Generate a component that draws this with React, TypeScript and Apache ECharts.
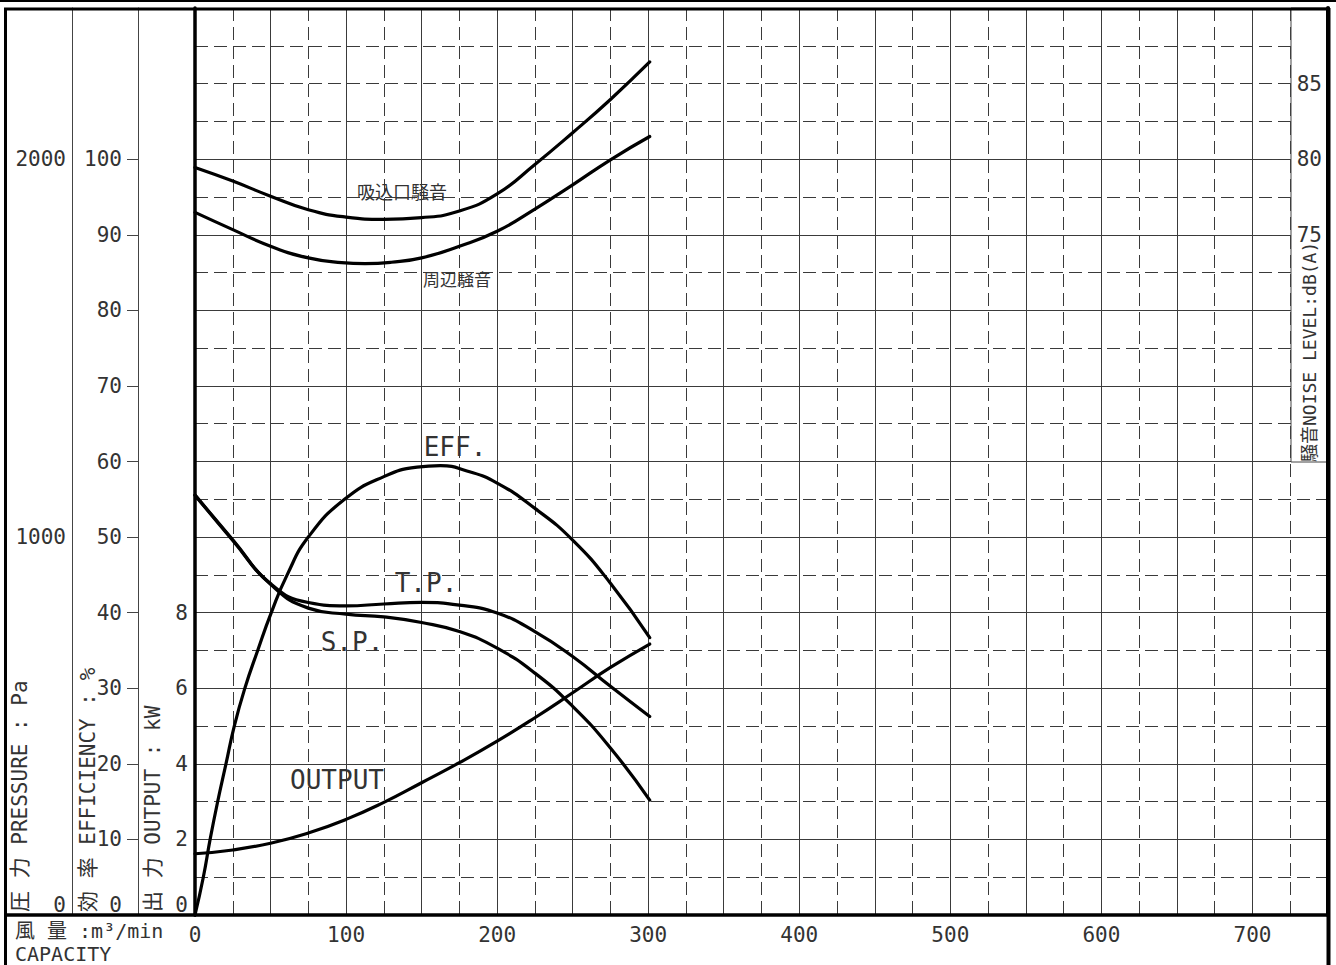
import React, { useEffect, useRef } from "react";
import * as echarts from "echarts";

// ---- data ----
const xTicks = [0, 100, 200, 300, 400, 500, 600, 700];
const effTicks = [0, 10, 20, 30, 40, 50, 60, 70, 80, 90, 100];
const effTickMarks = [10, 20, 30, 40, 50, 60, 70, 80, 90, 100];
const pressureTicks = [0, 1000, 2000];
const outputTicks = [0, 2, 4, 6, 8];
const noiseTicks = [75, 80, 85];

// efficiency % vs capacity m3/min
const effFlow = [0, 5.5, 10, 15, 20.5, 26, 33, 41.5, 50.5, 61, 75, 99, 125, 147, 162.5, 180, 200, 225, 250, 275, 301];
const effValues = [0, 5, 10, 15, 20, 25, 30, 35, 40, 45, 50, 55, 58, 59.25, 59.45, 58.75, 57.15, 53.8, 49.6, 43.9, 36.7];

// total / static pressure Pa
const pressFlow = [0, 25, 50, 75, 100, 125, 150, 175, 200, 225, 250, 275, 301];
const totalPressure = [1111, 993, 877, 827, 818, 823, 827, 820, 799, 750, 684, 605, 525];
const staticPressure = [1111, 991, 875, 812, 796, 789, 774, 750, 706, 640, 552, 442, 304];

// shaft output kW
const outputFlow = [0, 25, 50, 75, 100, 125, 150, 175, 200, 225, 250, 275, 301];
const outputKw = [1.62, 1.72, 1.9, 2.17, 2.53, 2.98, 3.5, 4.03, 4.6, 5.22, 5.88, 6.55, 7.17];

// noise dB(A)
const inletFlow = [0, 25, 50, 75, 100, 125, 150, 175, 200, 225, 250, 275, 301];
const inletNoise = [79.45, 78.55, 77.55, 76.65, 76.17, 76.02, 76.13, 76.57, 77.7, 79.65, 81.75, 83.95, 86.43];
const ambientFlow = [0, 25, 50, 75, 97, 112.5, 130, 150, 175, 200, 225, 250, 275, 301];
const ambientNoise = [76.48, 75.34, 74.24, 73.47, 73.16, 73.09, 73.18, 73.47, 74.24, 75.23, 76.7, 78.3, 79.96, 81.5];

const FONT = '"DejaVu Sans Mono", "Noto Sans CJK JP", monospace';
const CJK = '"Noto Sans CJK JP", sans-serif';
const TXT = "#333";
const GRID_SOLID = "#3c3c3c";
const GRID_DASH = "#3a3a3a";

const zip = (xs: number[], ys: number[]) => xs.map((x, i) => [x, ys[i]]);
const zeroUp = (v: number) => (v === 0 ? "0\n " : String(v));

function lineSeries(name: string, xs: number[], ys: number[], yAxisIndex: number) {
  return {
    type: "line",
    name,
    xAxisIndex: 0,
    yAxisIndex,
    data: zip(xs, ys),
    smooth: 0.5,
    symbol: "none",
    lineStyle: { color: "#000", width: 3.2, join: "round", cap: "round" },
    z: 5,
  };
}

function vText(text: string, x: number, y: number, size: number) {
  return {
    type: "text",
    x,
    y,
    rotation: Math.PI / 2,
    z: 60,
    style: {
      text,
      fill: TXT,
      fontSize: size,
      fontFamily: FONT,
      align: "left",
      textAlign: "left",
      verticalAlign: "middle",
      textVerticalAlign: "middle",
    },
  };
}

function label(text: string, x: number, y: number, size: number, family = FONT) {
  return {
    type: "text",
    x,
    y,
    z: 60,
    style: {
      text,
      fill: TXT,
      fontSize: size,
      fontFamily: family,
      align: "center",
      textAlign: "center",
      verticalAlign: "middle",
      textVerticalAlign: "middle",
    },
  };
}

function leftText(text: string, x: number, y: number, size: number) {
  return {
    type: "text",
    x,
    y,
    z: 60,
    style: {
      text,
      fill: TXT,
      fontSize: size,
      lineHeight: size,
      fontFamily: FONT,
      align: "left",
      textAlign: "left",
      verticalAlign: "middle",
      textVerticalAlign: "middle",
    },
  };
}

function seg(x1: number, y1: number, x2: number, y2: number, w: number) {
  return {
    type: "line",
    z: 50,
    shape: { x1, y1, x2, y2 },
    style: { stroke: "#000", lineWidth: w },
  };
}

export default function App() {
  const ref = useRef<HTMLDivElement>(null);

  useEffect(() => {
    document.body.style.margin = "0";
    if (!ref.current) return;
    const chart = echarts.init(ref.current, undefined, { renderer: "svg" });
    const labelBase = { fontFamily: FONT, fontSize: 21, color: TXT };

    chart.setOption({
      animation: false,
      backgroundColor: "#fff",
      grid: { left: 195, right: 8, top: 8, bottom: 50, containLabel: false },
      xAxis: [
        {
          type: "value",
          min: 0,
          max: 750,
          interval: 50,
          position: "bottom",
          axisLine: { show: true, onZero: false, lineStyle: { color: "#000", width: 3.5 } },
          axisTick: { show: false },
          axisLabel: { ...labelBase, customValues: xTicks, margin: 9 },
          splitLine: { show: true, lineStyle: { color: GRID_SOLID, width: 1, type: "solid" } },
        },
        {
          type: "value",
          min: 0,
          max: 750,
          interval: 25,
          position: "top",
          axisLine: { show: false },
          axisTick: { show: false },
          axisLabel: { show: false },
          splitLine: { show: true, lineStyle: { color: GRID_DASH, width: 1, type: [13, 6] } },
        },
      ],
      yAxis: [
        {
          // efficiency %
          type: "value",
          min: 0,
          max: 120,
          interval: 10,
          position: "left",
          offset: 57,
          axisLine: { show: true, onZero: false, lineStyle: { color: "#444", width: 1 } },
          axisTick: { show: true, customValues: effTickMarks, length: 11, lineStyle: { color: "#444", width: 1 } },
          axisLabel: { ...labelBase, customValues: effTicks, margin: 16, formatter: zeroUp },
          splitLine: { show: true, lineStyle: { color: GRID_SOLID, width: 1, type: "solid" } },
        },
        {
          // pressure Pa
          type: "value",
          min: 0,
          max: 2400,
          interval: 200,
          position: "left",
          offset: 123,
          axisLine: { show: true, onZero: false, lineStyle: { color: "#444", width: 1 } },
          axisTick: { show: false },
          axisLabel: { ...labelBase, customValues: pressureTicks, margin: 6, formatter: zeroUp },
          splitLine: { show: false },
        },
        {
          // output kW
          type: "value",
          min: 0,
          max: 24,
          interval: 2,
          position: "left",
          offset: 0,
          axisLine: { show: true, onZero: false, lineStyle: { color: "#000", width: 3.5 } },
          axisTick: { show: false },
          axisLabel: { ...labelBase, customValues: outputTicks, margin: 7, formatter: zeroUp },
          splitLine: { show: false },
          z: 8,
        },
        {
          // noise dB(A)
          type: "value",
          min: 30,
          max: 90,
          interval: 5,
          position: "right",
          offset: 0,
          axisLine: { show: true, onZero: false, lineStyle: { color: "#000", width: 4 } },
          axisTick: { show: false },
          axisLabel: { ...labelBase, customValues: noiseTicks, margin: 6, inside: true },
          splitLine: { show: false },
          z: 10,
        },
        {
          // dashed half-step grid
          type: "value",
          min: 0,
          max: 120,
          interval: 5,
          position: "left",
          offset: 0,
          axisLine: { show: false },
          axisTick: { show: false },
          axisLabel: { show: false },
          splitLine: { show: true, lineStyle: { color: GRID_DASH, width: 1, type: [13, 6] } },
        },
      ],
      series: [
        lineSeries("吸込口騒音", inletFlow, inletNoise, 3),
        lineSeries("周辺騒音", ambientFlow, ambientNoise, 3),
        lineSeries("EFF.", effFlow, effValues, 0),
        lineSeries("T.P.", pressFlow, totalPressure, 1),
        lineSeries("S.P.", pressFlow, staticPressure, 1),
        lineSeries("OUTPUT", outputFlow, outputKw, 2),
      ],
      graphic: {
        elements: [
          {
            type: "rect",
            z: 3,
            shape: { x: 1291, y: 8, width: 37, height: 454 },
            style: { fill: "#fff", stroke: "#444", lineWidth: 1 },
          },
          seg(0, 1, 1336, 1, 2),
          seg(4, 9, 1330, 9, 3),
          seg(5.5, 8, 5.5, 965, 3),
          seg(1328.5, 8, 1328.5, 965, 4),
          seg(5, 915, 196, 915, 3.5),
          vText("圧 力 PRESSURE : Pa", 20, 912, 21),
          vText("効 率 EFFICIENCY : %", 88, 912, 21),
          vText("出 力 OUTPUT : kW", 153, 912, 21),
          vText("騒音NOISE LEVEL:dB(A)", 1309, 462, 18),
          leftText("風 量 :m³/min", 15, 931, 20),
          leftText("CAPACITY", 15, 954, 20),
          label("吸込口騒音", 402, 191, 18, CJK),
          label("周辺騒音", 457, 278, 17, CJK),
          label("EFF.", 455, 447, 26),
          label("T.P.", 426, 583, 26),
          label("S.P.", 352, 642, 26),
          label("OUTPUT", 337, 780, 26),
        ],
      },
    });
    return () => chart.dispose();
  }, []);

  return <div ref={ref} style={{ width: 1336, height: 965, background: "#fff" }} />;
}
